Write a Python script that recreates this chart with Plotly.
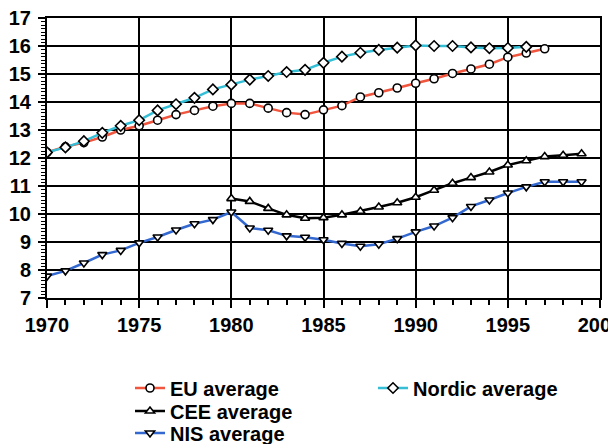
import plotly.graph_objects as go

years_eu = list(range(1970, 1998))
eu_avg = [12.2, 12.4, 12.55, 12.75, 13.0, 13.15, 13.35, 13.55, 13.7, 13.85,
          13.95, 13.95, 13.78, 13.62, 13.55, 13.72, 13.87, 14.18, 14.33, 14.5,
          14.67, 14.83, 15.02, 15.18, 15.35, 15.6, 15.75, 15.9]

years_nordic = list(range(1970, 1997))
nordic_avg = [12.2, 12.38, 12.6, 12.9, 13.15, 13.35, 13.7, 13.92, 14.15, 14.45,
              14.62, 14.8, 14.93, 15.07, 15.15, 15.4, 15.62, 15.76, 15.86, 15.94,
              16.02, 16.0, 16.0, 15.95, 15.92, 15.93, 15.97]

years_cee = list(range(1980, 2000))
cee_avg = [10.55, 10.45, 10.2, 9.97, 9.85, 9.87, 9.97, 10.1, 10.25, 10.4,
           10.6, 10.85, 11.1, 11.3, 11.5, 11.75, 11.9, 12.05, 12.1, 12.15]

years_nis = list(range(1970, 2000))
nis_avg = [7.78, 7.97, 8.25, 8.55, 8.7, 8.97, 9.18, 9.43, 9.65, 9.8,
           10.07, 9.5, 9.42, 9.22, 9.17, 9.08, 8.95, 8.85, 8.92, 9.12,
           9.36, 9.57, 9.87, 10.27, 10.5, 10.75, 10.97, 11.15, 11.15, 11.15]

x_tick_vals = [1970, 1975, 1980, 1985, 1990, 1995, 2000]
y_tick_vals = list(range(7, 18))

FONT = "Liberation Sans, Arial, sans-serif"

def series(name, x, y, color, symbol, legend):
    return go.Scatter(
        x=x, y=y, name=name, mode="lines+markers",
        line=dict(color=color, width=2.5),
        marker=dict(symbol=symbol, size=8, color="white",
                    line=dict(color="black", width=1.6)),
        legend=legend,
    )

fig = go.Figure()
fig.add_trace(series("EU average", years_eu, eu_avg, "#f2553d", "circle", "legend"))
fig.add_trace(series("Nordic average", years_nordic, nordic_avg, "#35bfd6", "diamond", "legend2"))
fig.add_trace(series("CEE average", years_cee, cee_avg, "black", "triangle-up", "legend3"))
fig.add_trace(series("NIS average", years_nis, nis_avg, "#3368d0", "triangle-down", "legend4"))

W, H = 616, 444

def leg(xpx, ypx):
    return dict(xref="container", yref="container", x=xpx / W, y=1 - ypx / H,
                xanchor="left", yanchor="middle", bgcolor="rgba(0,0,0,0)",
                borderwidth=0, font=dict(family=FONT, size=20, color="black", weight="bold"))

fig.update_layout(
    width=W, height=H,
    margin=dict(l=39, r=24, t=10, b=154, autoexpand=False),
    paper_bgcolor="white", plot_bgcolor="white",
    showlegend=True,
    legend=leg(122, 380),
    legend2=leg(365, 380),
    legend3=leg(122, 403),
    legend4=leg(122, 425),
    xaxis=dict(
        range=[1970, 2000], tickvals=x_tick_vals,
        ticks="outside", ticklen=8, tickwidth=2, tickcolor="black",
        minor=dict(dtick=1, ticks="outside", ticklen=5, tickwidth=1.5, tickcolor="black"),
        showgrid=True, gridcolor="black", gridwidth=2,
        showline=True, linecolor="black", linewidth=2, mirror=True,
        zeroline=False, automargin=False, ticklabeloverflow="allow",
        tickfont=dict(family=FONT, size=20, color="black", weight="bold"),
    ),
    yaxis=dict(
        range=[7, 17], tickvals=y_tick_vals,
        ticks="outside", ticklen=7, tickwidth=2, tickcolor="black",
        minor=dict(dtick=0.125, ticks="outside", ticklen=4, tickwidth=1, tickcolor="black"),
        showgrid=True, gridcolor="black", gridwidth=2,
        showline=True, linecolor="black", linewidth=2, mirror=True,
        zeroline=False, automargin=False, ticklabelstandoff=3,
        ticklabeloverflow="allow",
        tickfont=dict(family=FONT, size=20, color="black", weight="bold"),
    ),
)

fig.write_html("out.html")
